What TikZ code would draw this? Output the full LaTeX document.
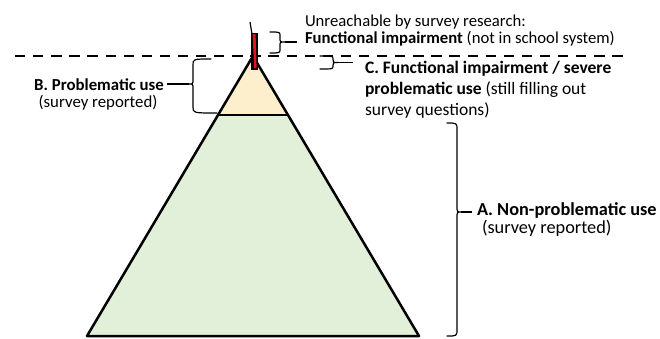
\documentclass[tikz,border=0pt]{standalone}
\usepackage{fontspec}
\setmainfont{Carlito}
\usetikzlibrary{calc}
\definecolor{beige}{HTML}{FDEFCB}
\definecolor{lgreen}{HTML}{E2EFD9}
\definecolor{redbar}{HTML}{E3151E}
\tikzset{
  txt/.style={inner sep=0pt, outer sep=0pt},
  ftop/.style={font=\fontsize{16.7}{20}\selectfont},
  fc/.style={font=\fontsize{17.5}{21}\selectfont},
  fb/.style={font=\fontsize{16.8}{20}\selectfont},
  fa/.style={font=\fontsize{18.3}{22}\selectfont},
  edge/.style={line width=2.5pt, line join=round},
  bracestyle/.style={line width=1.2pt, line cap=round, line join=round},
  tick/.style={line width=1.2pt}
}
\begin{document}
\begin{tikzpicture}[x=1pt,y=-1pt]
\useasboundingbox (0,0) rectangle (660,338);
% pyramid
\coordinate (apex) at (253,56);
\coordinate (bl) at (87,336);
\coordinate (br) at (419,336);
\coordinate (ml) at (218,115);
\coordinate (mr) at (288,115);
\fill[lgreen] (ml) -- (bl) -- (br) -- (mr) -- cycle;
\fill[beige] (apex) -- (ml) -- (mr) -- cycle;
\draw[edge] (apex) -- (bl) -- (br) -- cycle;
\draw[edge] (ml) -- (mr);
% dashed line
\coordinate (dl) at (15,56);
\coordinate (dr) at (623,56);
\draw[line width=2.8pt, dash pattern=on 10.3pt off 7.8pt] (dl) -- (dr);
% red bar
\draw[line width=1.2pt] (250,22) -- (252,34);
\filldraw[fill=black, draw=black, line width=1pt] (251.5,33) rectangle (257.5,69);
\fill[redbar] (252.6,34.2) -- (255.6,34.2) -- (256.6,68) -- (254.2,68) -- cycle;
% texts
\node[txt, ftop, anchor=base west] (u1) at (305,26.5) {Unreachable by survey research:};
\node[txt, ftop, anchor=base west] (u2) at (305,43.5) {\textbf{Functional impairment} (not in school system)};
\node[txt, fc, anchor=base west] (c1) at (365,73) {\textbf{C. Functional impairment / severe}};
\node[txt, fc, anchor=base west] (c2) at (365,94) {\textbf{problematic use} (still filling out};
\node[txt, fc, anchor=base west] (c3) at (365,115) {survey questions)};
\node[txt, fb, anchor=base] (b1) at (99,90) {\textbf{B. Problematic use}};
\node[txt, fb, anchor=base] (b2) at (98,107.5) {(survey reported)};
\node[txt, fa, anchor=base west] (a1) at (477,215.5) {\textbf{A. Non-problematic use}};
\node[txt, fa, anchor=base west] (a2) at (482,233.5) {(survey reported)};
% braces
% unreachable brace (right)
\draw[bracestyle] (270,32) .. controls (280,32) .. (280,36) -- (280,38)
  .. controls (280,42) .. (285,42) coordinate (tipU)
  .. controls (280,42) .. (280,46) -- (280,49) .. controls (280,53) .. (270,53);
% C brace (right)
\draw[bracestyle] (320,56) .. controls (333,56) .. (333,59) -- (333,59.5)
  .. controls (333,62.5) .. (338,62.5) coordinate (tipC)
  .. controls (333,62.5) .. (333,65.5) -- (333,66) .. controls (333,69) .. (320,69);
% B brace (left)
\draw[bracestyle] (211,59) .. controls (193,59) .. (193,65) -- (193,79)
  .. controls (193,84) .. (189,84) coordinate (tipB)
  .. controls (193,84) .. (193,89) -- (193,107) .. controls (193,113) .. (217,113);
% A brace (right)
\draw[bracestyle] (447,123) .. controls (457,123) .. (457,130) -- (457,206)
  .. controls (457,212) .. (461,212) coordinate (tipA)
  .. controls (457,212) .. (457,218) -- (457,329) .. controls (457,336) .. (447,336);
% connectors
\draw[tick] (tipU) -- ($(tipU -| u2.west)+(-8,0)$);
\draw[tick] (tipC) -- ($(tipC -| c1.west)+(-12,0)$);
\draw[tick] (tipB) -- ($(tipB -| b1.east)+(3,0)$);
\draw[tick] (tipA) -- ($(tipA -| a1.west)+(-5,0)$);
\end{tikzpicture}
\end{document}
